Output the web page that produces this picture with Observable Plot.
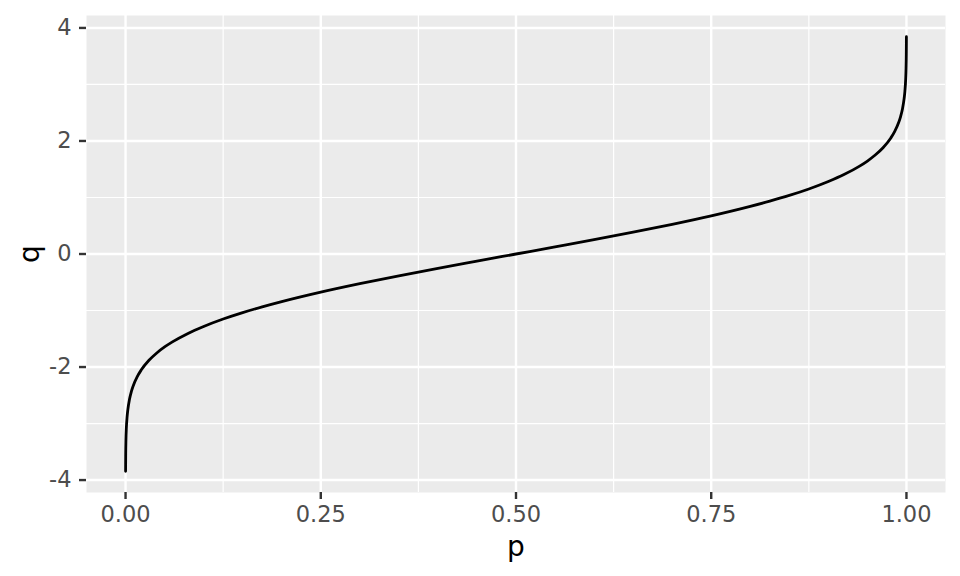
<!DOCTYPE html>
<html>
<head>
<meta charset="utf-8">
<script src="https://cdn.jsdelivr.net/npm/d3@7"></script>
<script src="https://cdn.jsdelivr.net/npm/@observablehq/plot@0.6"></script>
<style>
  html, body { margin: 0; padding: 0; background: #ffffff; }
  #chart svg { display: block; }
</style>
</head>
<body>
<div id="chart"></div>
<script>
// Values (probability p vs. quantile q)
const pVals = [0.00006, 0.0001, 0.0002, 0.0005, 0.001, 0.002, 0.003, 0.005, 0.0075, 0.01, 0.015, 0.02, 0.03, 0.04, 0.05, 0.06, 0.08, 0.1, 0.125, 0.15, 0.175, 0.2, 0.25, 0.3, 0.35, 0.4, 0.45, 0.5,
               0.55, 0.6, 0.65, 0.7, 0.75, 0.8, 0.825, 0.85, 0.875, 0.9, 0.92, 0.94, 0.95, 0.96, 0.97, 0.98, 0.985, 0.99, 0.9925, 0.995, 0.997, 0.998, 0.999, 0.9995, 0.9998, 0.9999, 0.99994];
const qVals = [-3.846, -3.719, -3.540, -3.291, -3.090, -2.878, -2.748, -2.576, -2.432, -2.326, -2.170, -2.054, -1.881, -1.751, -1.645, -1.555, -1.405, -1.282, -1.150, -1.036, -0.935, -0.842, -0.674, -0.524, -0.385, -0.253, -0.126, 0,
               0.126, 0.253, 0.385, 0.524, 0.674, 0.842, 0.935, 1.036, 1.150, 1.282, 1.405, 1.555, 1.645, 1.751, 1.881, 2.054, 2.170, 2.326, 2.432, 2.576, 2.748, 2.878, 3.090, 3.291, 3.540, 3.719, 3.846];

const xTicks = [0, 0.25, 0.5, 0.75, 1];
const xTickLabels = ["0.00", "0.25", "0.50", "0.75", "1.00"];
const xMinor = [0.125, 0.375, 0.625, 0.875];
const yTicks = [-4, -2, 0, 2, 4];
const yTickLabels = ["-4", "-2", "0", "2", "4"];
const yMinor = [-3, -1, 1, 3];
const xTitle = "p";
const yTitle = "q";

const data = pVals.map((p, i) => ({p, q: qVals[i]}));

const chart = Plot.plot({
  width: 960,
  height: 576,
  marginLeft: 86,
  marginRight: 15,
  marginTop: 15,
  marginBottom: 84,
  style: {fontFamily: "DejaVu Sans", background: "#ffffff"},
  x: {domain: [-0.05, 1.05]},
  y: {domain: [-4.22, 4.22]},
  marks: [
    Plot.frame({fill: "#EBEBEB", stroke: null}),
    Plot.ruleX(xMinor, {stroke: "#ffffff", strokeWidth: 1.2, strokeOpacity: 1}),
    Plot.ruleY(yMinor, {stroke: "#ffffff", strokeWidth: 1.2, strokeOpacity: 1}),
    Plot.ruleX(xTicks, {stroke: "#ffffff", strokeWidth: 2.4, strokeOpacity: 1}),
    Plot.ruleY(yTicks, {stroke: "#ffffff", strokeWidth: 2.4, strokeOpacity: 1}),
    Plot.line(data, {x: "p", y: "q", stroke: "#000000", strokeWidth: 2.8, curve: "monotone-x"}),
    Plot.axisX({
      ticks: xTicks,
      tickFormat: (d) => xTickLabels[xTicks.indexOf(d)],
      tickSize: 7,
      tickPadding: 7,
      stroke: "#333333",
      strokeWidth: 2.4,
      strokeOpacity: 1,
      fill: "#4D4D4D",
      fontSize: 22.5,
      label: null
    }),
    Plot.axisX({
      ticks: [],
      tickSize: 0,
      label: xTitle,
      labelAnchor: "center",
      labelArrow: "none",
      labelOffset: 63,
      fontSize: 28,
      fill: "#000000"
    }),
    Plot.axisY({
      ticks: yTicks,
      tickFormat: (d) => yTickLabels[yTicks.indexOf(d)],
      tickSize: 7,
      tickPadding: 8,
      stroke: "#333333",
      strokeWidth: 2.4,
      strokeOpacity: 1,
      fill: "#4D4D4D",
      fontSize: 22.5,
      label: null
    }),
    Plot.axisY({
      ticks: [],
      tickSize: 0,
      label: yTitle,
      labelAnchor: "center",
      labelArrow: "none",
      labelOffset: 67,
      fontSize: 28,
      fill: "#000000"
    })
  ]
});

document.getElementById("chart").appendChild(chart);
</script>
</body>
</html>
